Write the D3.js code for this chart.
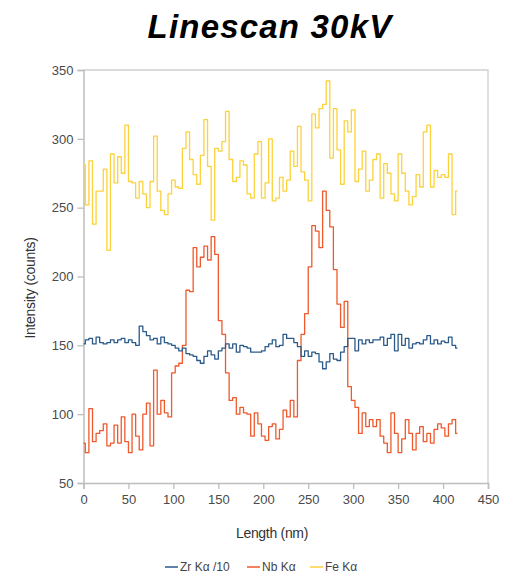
<!DOCTYPE html>
<html>
<head>
<meta charset="utf-8">
<script src="https://cdn.jsdelivr.net/npm/d3@7"></script>
<style>
  body { margin: 0; background: #fff; }
  svg { font-family: "Liberation Sans", Arial, sans-serif; }
</style>
</head>
<body>
<div id="chart"></div>
<script>
// scan step along the line (nm)
var stepNm = 4;

// Zr K-alpha divided by 10
var zrValues = [151,154,155,151,156,152,151,152,154,152,154,155,152,154,152,150,164,160,157,154,
  155,151,156,152,151,150,148,146,148,144,143,142,139,137,142,146,143,140,146,148,
  151,148,151,145,150,149,148,145,145,145,146,149,151,154,149,150,158,155,155,152,
  149,142,146,142,145,144,138,133,138,144,140,139,145,149,155,155,146,154,151,154,
  152,154,154,156,150,155,158,146,158,150,155,148,151,152,151,154,157,151,154,151,
  153,152,156,150,148];

// Nb K-alpha
var nbValues = [79,72,104,80,86,88,93,77,79,92,79,98,80,72,100,84,74,100,108,77,
  132,100,110,101,98,130,135,137,150,190,189,221,207,214,222,212,229,216,168,158,
  130,110,112,100,105,101,100,84,101,93,84,81,91,93,82,89,103,98,110,98,
  139,158,173,207,237,233,221,262,248,236,205,180,163,182,120,110,105,86,101,91,
  96,91,96,84,79,72,101,86,72,82,96,86,74,86,91,80,86,79,89,93,
  90,84,93,96,86];

// Fe K-alpha
var feValues = [281,252,284,238,262,262,278,219,289,268,287,275,310,269,268,257,269,260,250,269,
  302,262,248,245,260,270,265,264,293,305,285,274,267,288,314,280,241,293,291,298,
  320,285,269,272,284,281,260,257,289,298,257,268,300,255,257,272,262,270,291,280,
  309,276,270,255,318,308,322,325,342,286,322,292,267,313,305,321,269,278,291,262,
  270,285,289,257,282,275,260,255,289,275,262,252,258,274,265,305,310,265,277,272,
  274,272,289,245,262];

var seriesNames = ["Zr K\u03b1 /10", "Nb K\u03b1", "Fe K\u03b1"];
var seriesColors = ["#2b5a8a", "#f0592b", "#fcd23c"];
var xTicks = [0, 50, 100, 150, 200, 250, 300, 350, 400, 450];
var yTicks = [50, 100, 150, 200, 250, 300, 350];

var width = 508, height = 581;
var margin = {top: 70, right: 20, bottom: 98, left: 83.5};
var plotW = 488 - margin.left, plotH = 483 - margin.top;

var svg = d3.select("#chart")
  .append("svg")
    .attr("width", width)
    .attr("height", height);

// title
svg.append("text")
  .attr("x", 270)
  .attr("y", 38)
  .attr("text-anchor", "middle")
  .style("font-size", "33px")
  .style("font-weight", "bold")
  .style("font-style", "italic")
  .style("letter-spacing", "1.2px")
  .attr("fill", "#000")
  .text("Linescan 30kV");

var g = svg.append("g")
  .attr("transform", "translate(" + margin.left + "," + margin.top + ")");

var x = d3.scaleLinear().domain([0, 450]).range([0, plotW]);
var y = d3.scaleLinear().domain([50, 350]).range([plotH, 0]);

// frame (top and right)
g.append("path")
  .attr("d", "M0,0H" + plotW + "V" + plotH)
  .attr("fill", "none")
  .attr("stroke", "#cfcfcf")
  .attr("stroke-width", 1.3);

var xAxis = g.append("g")
  .attr("transform", "translate(0," + plotH + ")")
  .call(d3.axisBottom(x).tickValues(xTicks).tickSize(6).tickPadding(6));

var yAxis = g.append("g")
  .call(d3.axisLeft(y).tickValues(yTicks).tickSize(6).tickPadding(4));

[xAxis, yAxis].forEach(function(a) {
  a.select(".domain").attr("stroke", "#bdbdbd").attr("stroke-width", 1.5);
  a.selectAll(".tick line").attr("stroke", "#bdbdbd").attr("stroke-width", 1.3);
  a.selectAll(".tick text")
    .attr("fill", "#4a4a4a")
    .style("font-size", "13px")
    .style("font-family", "Liberation Sans, Arial, sans-serif");
});

// lines
var allSeries = [zrValues, nbValues, feValues];
var line = d3.line()
  .x(function(d, i) { return x(i * stepNm); })
  .y(function(d) { return y(d); })
  .curve(d3.curveStep);

// draw Fe first, then Nb, then Zr on top
[2, 1, 0].forEach(function(k) {
  g.append("path")
    .datum(allSeries[k])
    .attr("fill", "none")
    .attr("stroke", seriesColors[k])
    .attr("stroke-width", 1.3)
    .attr("stroke-linejoin", "round")
    .attr("d", line);
});

// axis labels
svg.append("text")
  .attr("x", 272)
  .attr("y", 538)
  .attr("text-anchor", "middle")
  .style("font-size", "14px")
  .style("letter-spacing", "-0.3px")
  .attr("fill", "#333")
  .text("Length (nm)");

svg.append("text")
  .attr("transform", "translate(35,288) rotate(-90)")
  .attr("text-anchor", "middle")
  .style("font-size", "14px")
  .style("letter-spacing", "-0.3px")
  .attr("fill", "#333")
  .text("Intensity (counts)");

// legend
var legendX = [165, 247, 310];
var legend = svg.append("g");
seriesNames.forEach(function(name, k) {
  legend.append("line")
    .attr("x1", legendX[k]).attr("x2", legendX[k] + 13)
    .attr("y1", 567).attr("y2", 567)
    .attr("stroke", seriesColors[k])
    .attr("stroke-width", 1.5);
  legend.append("text")
    .attr("x", legendX[k] + 15)
    .attr("y", 571)
    .style("font-size", "12px")
    .attr("fill", "#444")
    .text(name);
});
</script>
</body>
</html>
